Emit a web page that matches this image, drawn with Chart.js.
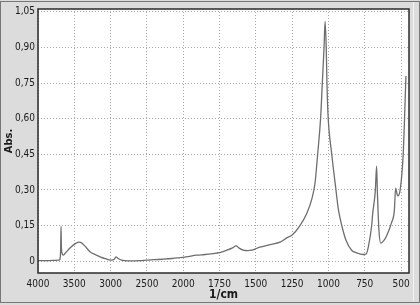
<!DOCTYPE html>
<html>
<head>
<meta charset="utf-8">
<script src="https://cdn.jsdelivr.net/npm/chart.js@4.4.1/dist/chart.umd.min.js"></script>
<style>
  body { margin: 0; background: #dcdcdc; }
  canvas { display: block; }
</style>
</head>
<body>
<canvas id="spectrum" width="420" height="305"></canvas>
<script>
// FTIR spectrum, wavenumber (1/cm) vs absorbance
const wavenumbers = [4000, 3900, 3800, 3720, 3700, 3695, 3688, 3683, 3678, 3670, 3655, 3620, 3560, 3480, 3435,
  3400, 3350, 3284, 3200, 3146, 3060, 2985, 2950, 2926, 2900, 2847, 2800, 2733, 2600, 2503, 2400, 2278, 2150,
  2044, 1980, 1907, 1850, 1795, 1750, 1700, 1660, 1636, 1615, 1586, 1555, 1528, 1490, 1448, 1402, 1333, 1287,
  1250, 1196, 1150, 1115, 1092, 1074, 1053, 1042, 1030, 1023, 1015, 1010, 1003, 977, 948, 932, 908, 879, 840,
  805, 760, 740, 725, 702, 695, 677, 668, 663, 652, 640, 620, 598, 564, 546, 537, 523, 507, 485, 466];
const absorbance = [0.002, 0.002, 0.003, 0.004, 0.006, 0.012, 0.05, 0.146, 0.06, 0.035, 0.025, 0.035, 0.055, 0.075, 0.08,
  0.077, 0.062, 0.04, 0.026, 0.018, 0.009, 0.004, 0.008, 0.018, 0.012, 0.004, 0.002, 0.001, 0.002, 0.004, 0.006, 0.008, 0.011,
  0.015, 0.018, 0.025, 0.028, 0.032, 0.036, 0.046, 0.056, 0.064, 0.055, 0.046, 0.044, 0.046, 0.055, 0.062, 0.07, 0.08, 0.098,
  0.11, 0.15, 0.2, 0.26, 0.33, 0.45, 0.61, 0.75, 0.9, 1.01, 0.9, 0.75, 0.62, 0.45, 0.3, 0.22, 0.15, 0.088, 0.046,
  0.035, 0.028, 0.03, 0.06, 0.15, 0.2, 0.296, 0.40, 0.296, 0.13, 0.076, 0.085, 0.108, 0.164, 0.2125, 0.307, 0.275, 0.296, 0.45, 0.78];

const xTickLabels = ['4000', '3500', '3000', '2500', '2000', '1750', '1500', '1250', '1000', '750', '500'];
const yTickValues = [0, 0.15, 0.30, 0.45, 0.60, 0.75, 0.90, 1.05];
const yTickLabels = ['0', '0,15', '0,30', '0,45', '0,60', '0,75', '0,90', '1,05'];

// the x axis changes scale at 2000 1/cm (500 per division above, 250 below)
function toPos(w) {
  return w >= 2000 ? (4000 - w) / 500 : 4 + (2000 - w) / 250;
}

const points = wavenumbers.map((w, i) => ({ x: toPos(w), y: absorbance[i] }));

const tickFont = { family: "'Liberation Sans Narrow', 'DejaVu Sans Condensed', sans-serif", size: 10 };

const framePlugin = {
  id: 'frame',
  beforeDraw(chart) {
    const ctx = chart.ctx;
    const a = chart.chartArea;
    ctx.save();
    ctx.fillStyle = '#dcdcdc';
    ctx.fillRect(0, 0, chart.width, chart.height);
    ctx.strokeStyle = '#777';
    ctx.lineWidth = 1;
    ctx.strokeRect(0.5, 1.5, chart.width - 1, chart.height - 4);
    ctx.strokeStyle = '#f4f4f4';
    ctx.beginPath();
    ctx.moveTo(413.5, 2);
    ctx.lineTo(413.5, 301);
    ctx.stroke();
    ctx.fillStyle = '#fff';
    ctx.fillRect(a.left, a.top, a.right - a.left, a.bottom - a.top);
    ctx.restore();
  },
  afterDraw(chart) {
    const ctx = chart.ctx;
    const a = chart.chartArea;
    ctx.save();
    ctx.strokeStyle = '#2a2a2a';
    ctx.lineWidth = 1.5;
    ctx.strokeRect(a.left, a.top, a.right - a.left, a.bottom - a.top);
    ctx.restore();
  }
};

new Chart(document.getElementById('spectrum'), {
  type: 'line',
  data: {
    datasets: [{
      data: points,
      borderColor: '#6e6e6e',
      borderWidth: 1.3,
      pointRadius: 0,
      cubicInterpolationMode: 'monotone',
      fill: false
    }]
  },
  options: {
    responsive: false,
    animation: false,
    devicePixelRatio: 1,
    layout: { padding: { left: 0, top: 7, right: 11, bottom: 0 } },
    plugins: { legend: { display: false }, tooltip: { enabled: false } },
    scales: {
      x: {
        type: 'linear',
        min: 0,
        max: 10.22,
        afterBuildTicks: scale => { scale.ticks = xTickLabels.map((_, i) => ({ value: i })); },
        afterFit: scale => { scale.height = 32; },
        ticks: {
          font: tickFont,
          color: '#1a1a1a',
          padding: 5,
          maxRotation: 0,
          autoSkip: false,
          callback: (value, i) => xTickLabels[i]
        },
        grid: { color: '#a8a8a8', drawTicks: false },
        border: { display: false, dash: [1, 2] },
        title: {
          display: true,
          text: '1/cm',
          color: '#1a1a1a',
          font: { family: tickFont.family, size: 12, weight: 'bold' },
          padding: { top: 0, bottom: 3 }
        }
      },
      y: {
        type: 'linear',
        min: -0.05,
        max: 1.062,
        afterBuildTicks: scale => { scale.ticks = yTickValues.map(v => ({ value: v })); },
        afterFit: scale => { scale.width = 38; },
        ticks: {
          font: tickFont,
          color: '#1a1a1a',
          padding: 3,
          callback: (value, i) => yTickLabels[i]
        },
        grid: { color: '#a8a8a8', drawTicks: false },
        border: { display: false, dash: [1, 2] },
        title: {
          display: true,
          text: 'Abs.',
          color: '#1a1a1a',
          font: { family: tickFont.family, size: 11, weight: 'bold' },
          padding: { top: 3, bottom: 0 }
        }
      }
    }
  },
  plugins: [framePlugin]
});
</script>
</body>
</html>
